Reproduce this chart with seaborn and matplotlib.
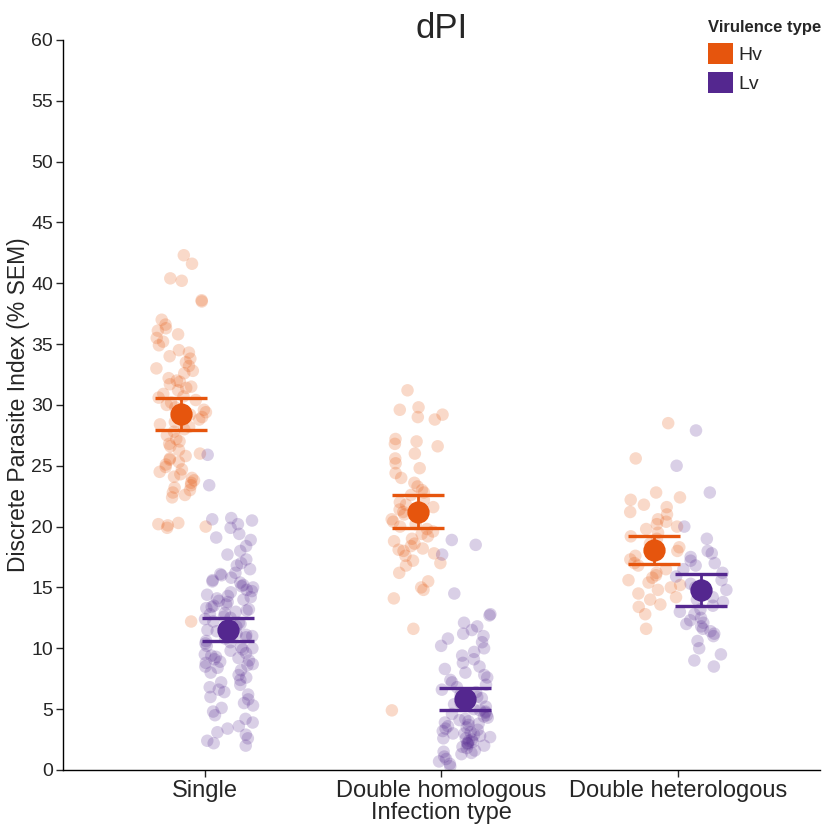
import numpy as np
import pandas as pd
import matplotlib
matplotlib.use("Agg")
import matplotlib.pyplot as plt
from matplotlib.patches import Patch
import seaborn as sns

categories = ["Single", "Double homologous", "Double heterologous"]
virulence = ["Hv", "Lv"]
colors = {"Hv": "#E6550D", "Lv": "#54278F"}

single_hv = [42.3, 41.6, 40.4, 40.2, 38.6, 38.5, 37.0, 36.3, 36.1, 35.8, 35.5, 34.5, 34.3, 34.0,
             33.8, 33.5, 33.0, 32.6, 32.2, 32.0, 31.7, 31.5, 31.2, 30.9, 30.7, 30.4, 30.2, 30.0,
             29.8, 29.6, 29.4, 29.2, 29.0, 28.8, 28.6, 28.4, 28.2, 28.0, 27.8, 27.5, 27.2, 27.0,
             26.8, 26.6, 26.3, 26.0, 25.8, 25.6, 25.5, 25.3, 25.1, 24.9, 24.7, 24.5, 24.3, 24.1,
             24.0, 23.8, 23.6, 23.4, 23.2, 23.0, 22.8, 22.6, 22.4, 20.3, 20.2, 20.1, 20.0, 19.9, 12.2,
             33.2, 32.8, 31.9, 31.4, 30.6, 34.9, 36.6, 35.2]
single_lv = [25.9, 23.4, 20.7, 20.6, 20.5, 20.2, 19.9, 19.4, 19.1, 18.9, 18.4, 18.0, 17.7, 17.3,
             17.0, 16.8, 16.5, 16.2, 16.0, 15.8, 15.6, 15.5, 15.4, 15.2, 15.0, 14.8, 14.6, 14.4,
             14.3, 14.2, 14.0, 13.8, 13.6, 13.5, 13.4, 13.3, 13.2, 13.0, 12.8, 12.6, 12.4, 12.2,
             12.0, 11.8, 11.6, 11.4, 11.2, 11.0, 10.8, 10.6, 10.4, 10.2, 10.0, 9.8, 9.6, 9.4,
             9.3, 9.2, 9.0, 8.9, 8.8, 8.6, 8.4, 8.2, 8.0, 7.8, 7.6, 7.4, 7.2, 7.0, 6.8, 6.6,
             6.4, 6.2, 6.0, 5.8, 5.5, 5.3, 5.1, 4.8, 4.5, 4.2, 3.9, 3.6, 3.4, 3.1, 2.9, 2.6,
             2.4, 2.2, 2.0, 13.1, 13.9, 14.1, 12.9, 12.5, 11.5, 10.9, 10.5, 9.9, 9.1, 8.7,
             15.1, 16.1, 14.7, 12.1, 11.1, 9.5, 8.5, 10.1]
dhom_hv = [31.2, 29.8, 29.6, 29.2, 29.0, 28.8, 27.2, 27.0, 26.8, 26.6, 26.0, 25.6, 25.2, 24.8,
           24.4, 24.0, 23.6, 23.3, 23.0, 22.8, 22.6, 22.2, 22.0, 21.8, 21.6, 21.4, 21.2, 21.0,
           20.8, 20.6, 20.4, 20.2, 20.0, 19.8, 19.6, 19.4, 19.2, 19.0, 18.8, 18.6, 18.4, 18.2,
           18.1, 18.0, 17.8, 17.6, 17.2, 17.0, 16.8, 16.2, 15.5, 15.0, 14.8, 14.1, 11.6, 4.9]
dhom_lv = [18.9, 18.5, 17.7, 14.5, 12.8, 12.7, 12.1, 11.8, 11.5, 11.2, 11.0, 10.8, 10.5, 10.2,
           10.0, 9.7, 9.4, 9.1, 8.8, 8.5, 8.3, 8.0, 7.8, 7.6, 7.4, 7.2, 7.0, 6.8, 6.6, 6.4,
           6.2, 6.0, 5.8, 5.6, 5.5, 5.4, 5.2, 5.0, 4.9, 4.8, 4.6, 4.5, 4.4, 4.2, 4.0, 3.9,
           3.8, 3.6, 3.5, 3.4, 3.2, 3.1, 3.0, 2.9, 2.8, 2.7, 2.6, 2.5, 2.4, 2.3, 2.2, 2.1,
           2.0, 1.9, 1.8, 1.6, 1.5, 1.3, 1.1, 0.9, 0.7, 0.5, 0.3, 2.6, 3.7, 5.9, 5.3, 4.7,
           4.1, 3.3, 2.2, 1.4, 3.0, 4.3]
dhet_hv = [28.5, 25.6, 22.8, 22.4, 22.2, 21.8, 21.6, 21.2, 21.0, 20.6, 20.4, 20.2, 20.0, 19.8,
           19.5, 19.2, 19.0, 18.6, 18.3, 18.0, 17.6, 17.3, 17.0, 16.8, 16.5, 16.2, 16.0, 15.8,
           15.6, 15.4, 15.2, 15.0, 14.8, 14.5, 14.2, 14.0, 13.6, 13.4, 12.8, 11.6]
dhet_lv = [27.9, 25.0, 22.8, 20.0, 19.0, 18.0, 17.8, 17.5, 17.2, 17.0, 16.8, 16.5, 16.2, 15.9,
           15.6, 15.3, 15.0, 14.8, 14.5, 14.2, 14.0, 13.8, 13.5, 13.2, 13.0, 12.8, 12.5, 12.3,
           12.1, 12.0, 11.8, 11.6, 11.4, 11.2, 11.0, 10.6, 10.0, 9.5, 9.0, 8.5]

groups = {
    ("Single", "Hv"): single_hv, ("Single", "Lv"): single_lv,
    ("Double homologous", "Hv"): dhom_hv, ("Double homologous", "Lv"): dhom_lv,
    ("Double heterologous", "Hv"): dhet_hv, ("Double heterologous", "Lv"): dhet_lv,
}
hue_shift = {"Hv": -0.1, "Lv": 0.1}
rows = []
for (cat, vir), vals in groups.items():
    for v in vals:
        rows.append({"Infection": cat, "Virulence": vir, "dPI": v,
                     "pos": categories.index(cat) + hue_shift[vir]})
df = pd.DataFrame(rows)

sns.set_style("white")
plt.rcParams["font.family"] = ["Liberation Sans", "DejaVu Sans"]
np.random.seed(3)

fig = plt.figure(figsize=(8.28, 8.25), dpi=100)
ax = fig.add_axes([0.076, 0.0667, 0.914, 0.885])

sns.stripplot(data=df, x="pos", y="dPI", hue="Virulence", hue_order=virulence,
              palette=colors, native_scale=True, jitter=0.55, size=9,
              alpha=0.22, linewidth=0, legend=False, ax=ax, zorder=1)
sns.pointplot(data=df, x="pos", y="dPI", hue="Virulence", hue_order=virulence,
              palette=colors, native_scale=True, errorbar=("se", 2),
              linestyle="none", markers="o", markersize=14, capsize=0,
              err_kws={"linewidth": 2}, legend=False, ax=ax)

# caps
stats = df.groupby(["pos", "Virulence"])["dPI"].agg(["mean", "sem"]).reset_index()
for _, r in stats.iterrows():
    for yv in (r["mean"] - 2 * r["sem"], r["mean"] + 2 * r["sem"]):
        ax.hlines(yv, r["pos"] - 0.11, r["pos"] + 0.11, color=colors[r["Virulence"]],
                  linewidth=2.4, zorder=5)

ax.set_xlim(-0.6, 2.6)
ax.set_ylim(0, 60)
ax.set_xticks(range(len(categories)))
ax.set_xticklabels(categories, fontsize=17)
ax.set_yticks(np.arange(0, 61, 5))
ax.tick_params(axis="y", labelsize=14, length=5, width=1, direction="out", left=True, pad=2)
ax.tick_params(axis="x", length=5, width=1, direction="out", bottom=True, pad=2)
ax.set_xlabel("Infection type", fontsize=17, labelpad=0)
ax.set_ylabel("Discrete Parasite Index (% SEM)", fontsize=16.5, labelpad=1)
ax.set_title("dPI", fontsize=25, pad=1)
for s in ["top", "right"]:
    ax.spines[s].set_visible(False)
for s in ["left", "bottom"]:
    ax.spines[s].set_color("black")
    ax.spines[s].set_linewidth(1)

handles = [Patch(facecolor=colors[v], edgecolor="none", label=v) for v in virulence]
leg = fig.legend(handles=handles, title="Virulence type", loc="upper left",
                 bbox_to_anchor=(0.848, 0.983), frameon=False, fontsize=14,
                 title_fontsize=12, handlelength=1.3, handleheight=1.3,
                 handletextpad=0.25, labelspacing=0.4, borderaxespad=0,
                 borderpad=0.3)
leg.get_title().set_fontweight("bold")
leg._legend_box.align = "left"

fig.savefig("out.png", dpi=100)
